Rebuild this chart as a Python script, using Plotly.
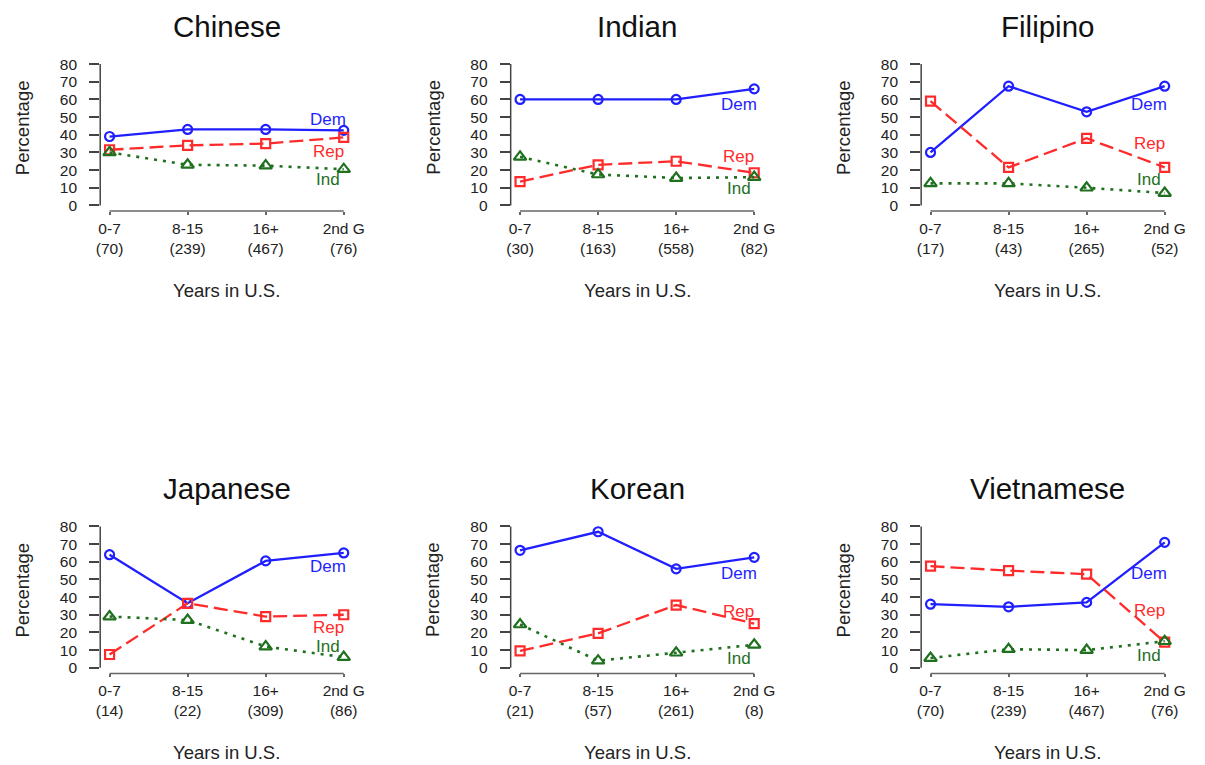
import plotly.graph_objects as go

# ---- data -------------------------------------------------------------
groups = ["Chinese", "Indian", "Filipino", "Japanese", "Korean", "Vietnamese"]
periods = ["0-7", "8-15", "16+", "2nd G"]

counts = {
    "Chinese":    [70, 239, 467, 76],
    "Indian":     [30, 163, 558, 82],
    "Filipino":   [17, 43, 265, 52],
    "Japanese":   [14, 22, 309, 86],
    "Korean":     [21, 57, 261, 8],
    "Vietnamese": [70, 239, 467, 76],
}

dem = {
    "Chinese":    [39, 43, 43, 42.5],
    "Indian":     [60, 60, 60, 66],
    "Filipino":   [30, 67.5, 53, 67.5],
    "Japanese":   [64, 36.5, 60.5, 65],
    "Korean":     [66.5, 77, 56, 62.5],
    "Vietnamese": [36, 34.5, 37, 71],
}

rep = {
    "Chinese":    [31.5, 34, 35, 38.5],
    "Indian":     [13.5, 23, 25, 18.5],
    "Filipino":   [59, 21.5, 38, 21.5],
    "Japanese":   [7.5, 36.5, 29, 30],
    "Korean":     [9.5, 19.5, 35.5, 25],
    "Vietnamese": [57.5, 55, 53, 14.5],
}

ind = {
    "Chinese":    [30, 23, 22.5, 20.5],
    "Indian":     [27.5, 17.5, 15.5, 16],
    "Filipino":   [12.5, 12.5, 10, 7],
    "Japanese":   [29, 27, 12, 6],
    "Korean":     [24.5, 4, 8.5, 13],
    "Vietnamese": [5.5, 10.5, 10, 15],
}

# where the party names sit in each panel (y in percentage units)
label_y = {
    "Chinese":    {"Dem": 48.5, "Rep": 30.7, "Ind": 14.8},
    "Indian":     {"Dem": 56.9, "Rep": 27.9, "Ind": 9.7},
    "Filipino":   {"Dem": 56.9, "Rep": 35.0, "Ind": 14.4},
    "Japanese":   {"Dem": 57.1, "Rep": 23.0, "Ind": 12.2},
    "Korean":     {"Dem": 53.4, "Rep": 31.8, "Ind": 5.1},
    "Vietnamese": {"Dem": 53.4, "Rep": 32.2, "Ind": 6.9},
}
label_x = 3.8

y_ticks = list(range(0, 81, 10))

# ---- styling ------------------------------------------------------------
W, H = 1205, 765
FONT = "Liberation Sans, Arial, Helvetica, sans-serif"
BLUE = "#1f1fff"
RED = "#ff2b2b"
GREEN = "#1f701f"
AXIS = "#444444"

series = [
    ("Dem", dem, BLUE, "solid", "circle-open", 9, 2.3),
    ("Rep", rep, RED, "14px,6px", "square-open", 9, 2.3),
    ("Ind", ind, GREEN, "3px,6px", "triangle-up-open", 11, 2.6),
]

# panel geometry in pixels (left, right, top, bottom)
col_left = [97.5, 513.5, 929.5]
panel_w = 256.3
row_top = [55.9, 521.9]
panel_h = 153.8

fig = go.Figure()
x_pos = [1, 2, 3, 4]

for i, g in enumerate(groups):
    r, c = divmod(i, 3)
    k = "" if i == 0 else str(i + 1)
    xa, ya = "x" + k, "y" + k
    left = col_left[c]
    right = left + panel_w
    top = row_top[r]
    bottom = top + panel_h

    for name, data, color, dash, sym, msize, lw in series:
        fig.add_trace(go.Scatter(
            x=x_pos, y=data[g], xaxis=xa, yaxis=ya,
            mode="lines+markers",
            line=dict(color=color, width=lw, dash=dash),
            marker=dict(symbol=sym, size=msize, color=color,
                        line=dict(color=color, width=2.2)),
            showlegend=False, hoverinfo="skip",
        ))
        fig.add_annotation(
            x=label_x, y=label_y[g][name], xref=xa, yref=ya,
            text=name, showarrow=False, xanchor="center", yanchor="middle",
            font=dict(family=FONT, size=17, color=color),
        )

    tick_text = [f"{p}<br>({n})" for p, n in zip(periods, counts[g])]
    fig.update_layout({
        "xaxis" + k: dict(
            domain=[left / W, right / W], anchor=ya, range=[0.88, 4.12],
            tickmode="array", tickvals=x_pos, ticktext=tick_text,
            ticks="outside", ticklen=3, tickwidth=1.5, tickcolor="#666666",
            showline=False, showgrid=False, zeroline=False,
            tickfont=dict(family=FONT, size=15.5, color="#222222"),
            ticklabelstandoff=0, fixedrange=True,
        ),
        "yaxis" + k: dict(
            domain=[1 - bottom / H, 1 - top / H], anchor=xa, range=[-3.2, 83.2],
            tickmode="array", tickvals=y_ticks,
            ticks="outside", ticklen=10, tickwidth=1.5, tickcolor=AXIS,
            showline=False, showgrid=False, zeroline=False,
            tickfont=dict(family=FONT, size=15.5, color="#222222"),
            ticklabelstandoff=9, fixedrange=True,
        ),
    })

    # axis lines span only the first to last tick
    fig.add_shape(type="line", xref=xa, yref=ya + " domain",
                  x0=1, x1=4, y0=0, y1=0,
                  line=dict(color="#666666", width=1.5))
    fig.add_shape(type="line", xref=xa + " domain", yref=ya,
                  x0=0, x1=0, y0=0, y1=80,
                  line=dict(color=AXIS, width=1.5))

    cx = (left + right) / 2
    fig.add_annotation(
        x=cx / W, y=1 - (top - 32.5) / H, xref="paper", yref="paper",
        text=g, showarrow=False, xanchor="center", yanchor="middle",
        font=dict(family=FONT, size=29.5, color="#111111"),
    )
    fig.add_annotation(
        x=cx / W, y=1 - (bottom + 80) / H, xref="paper", yref="paper",
        text="Years in U.S.", showarrow=False, xanchor="center", yanchor="middle",
        font=dict(family=FONT, size=18.5, color="#222222"),
    )
    fig.add_annotation(
        x=(left - 78.5) / W, y=1 - (top + 69.5) / H, xref="paper", yref="paper",
        text="Percentage", showarrow=False, xanchor="center", yanchor="middle",
        textangle=-90,
        font=dict(family=FONT, size=18.5, color="#222222"),
    )

fig.update_layout(
    width=W, height=H, autosize=False,
    margin=dict(l=0, r=0, t=0, b=0),
    paper_bgcolor="white", plot_bgcolor="white",
    font=dict(family=FONT),
)

fig.write_html("out.html")
